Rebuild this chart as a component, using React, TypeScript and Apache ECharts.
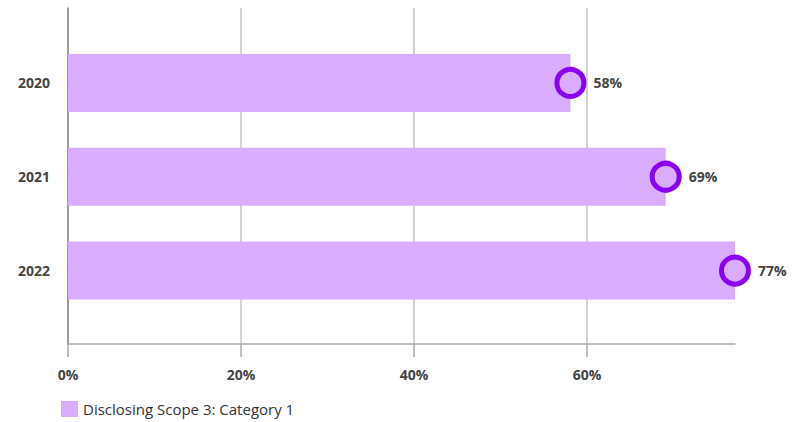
import React, { useEffect, useRef } from "react";
import * as echarts from "echarts";

const years = ["2020", "2021", "2022"];
const values = [58, 69, 77];
const seriesName = "Disclosing Scope 3: Category 1";
const xTicks = [0, 20, 40, 60];

export default function App() {
  const ref = useRef<HTMLDivElement>(null);
  useEffect(() => {
    if (!ref.current) return;
    const chart = echarts.init(ref.current, undefined, { renderer: "svg" });
    const font = "'Open Sans', 'Noto Sans', sans-serif";
    chart.setOption({
      animation: false,
      textStyle: { fontFamily: font },
      legend: {
        data: [seriesName],
        left: 59,
        top: 399,
        padding: [2, 2, 2, 2],
        icon: "rect",
        itemWidth: 17,
        itemHeight: 16,
        itemGap: 8,
        textStyle: { fontSize: 15, color: "#333", fontFamily: font },
      },
      grid: [
        { left: 68, right: 61, top: 8, bottom: 78 },
        { left: 68, right: 61, top: 36, bottom: 104.5 },
        { left: 68, width: 519, top: 8, bottom: 78 },
      ],
      xAxis: [
        {
          gridIndex: 0, type: "value", min: 0, max: 77,
          axisLine: { show: true, lineStyle: { color: "#aaa", width: 1.5 } },
          axisTick: { show: false }, axisLabel: { show: false }, splitLine: { show: false },
        },
        {
          gridIndex: 1, type: "value", min: 0, max: 77, show: false,
        },
        {
          gridIndex: 2, type: "value", min: xTicks[0], max: xTicks[xTicks.length - 1], interval: 20,
          axisLine: { show: false },
          axisTick: { show: true, length: 13, lineStyle: { color: "#aaa", width: 1.5 } },
          splitLine: { show: true, lineStyle: { color: "#c4c4c4", width: 1.5 } },
          axisLabel: {
            margin: 23, fontSize: 14, fontWeight: "bold", color: "#444", fontFamily: font,
            formatter: "{value}%",
          },
        },
      ],
      yAxis: [
        {
          gridIndex: 0, type: "value", min: 0, max: 1,
          axisLine: { show: true, lineStyle: { color: "#888", width: 1.5 } },
          axisTick: { show: false }, axisLabel: { show: false }, splitLine: { show: false },
        },
        {
          gridIndex: 1, type: "category", data: years, inverse: true,
          axisLine: { show: false }, axisTick: { show: false },
          axisLabel: { margin: 18, fontSize: 14, fontWeight: "bold", color: "#444", fontFamily: font },
        },
        {
          gridIndex: 2, type: "value", min: 0, max: 1, show: false,
        },
      ],
      series: [
        {
          name: seriesName,
          type: "bar",
          xAxisIndex: 1, yAxisIndex: 1,
          data: values,
          barWidth: 58,
          itemStyle: { color: "#d9acfd" },
          z: 3,
        },
        {
          name: "markers",
          type: "scatter",
          xAxisIndex: 1, yAxisIndex: 1,
          data: values.map((v, i) => [v, years[i]]),
          symbol: "circle",
          symbolSize: 27,
          itemStyle: { color: "#d9acfd", borderColor: "#8a00f2", borderWidth: 5, opacity: 1 },
          label: {
            show: true, position: "right", distance: 7,
            formatter: (p: any) => p.value[0] + "%",
            fontSize: 14, fontWeight: "bold", color: "#444", fontFamily: font,
          },
          z: 5,
        },
      ],
    });
    return () => chart.dispose();
  }, []);
  return <div ref={ref} style={{ width: 796, height: 422, position: "absolute", left: 0, top: 0 }} />;
}
